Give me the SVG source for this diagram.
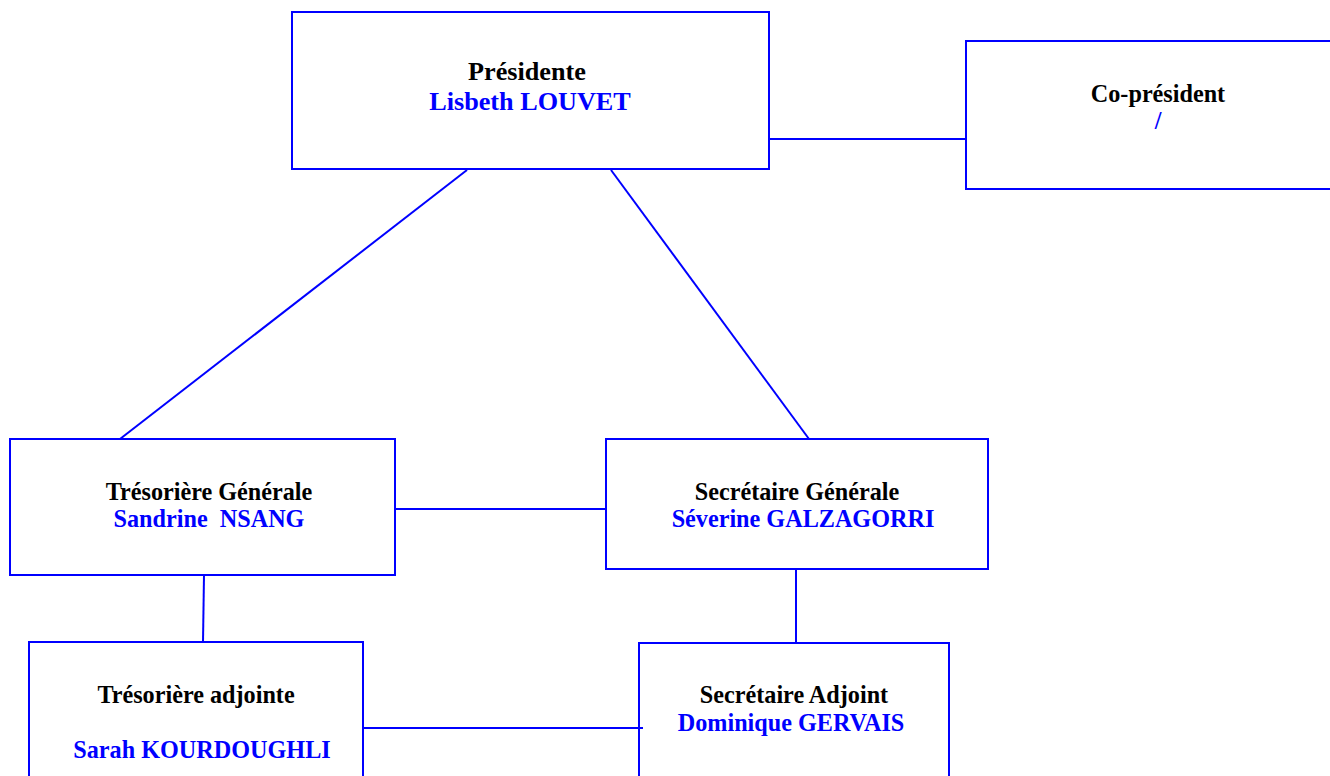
<svg xmlns="http://www.w3.org/2000/svg" width="1330" height="776" viewBox="0 0 1330 776">
<style>
.box{fill:none;stroke:#0000ff;stroke-width:2}
.ln{stroke:#0000ff;stroke-width:2;fill:none}
.t{font-family:"Liberation Serif","Times New Roman",serif;font-weight:bold;font-size:24.2px;text-anchor:middle;white-space:pre}
.role{fill:#000}
.name{fill:#0000ff}
.big{font-size:26.2px}
</style>
<rect width="1330" height="776" fill="#fff"/>
<g id="connectors">
<line class="ln" x1="769" y1="139" x2="966" y2="139"/>
<line class="ln" x1="467" y1="170" x2="120" y2="439"/>
<line class="ln" x1="611" y1="170" x2="809" y2="439"/>
<line class="ln" x1="395" y1="509" x2="606" y2="509"/>
<line class="ln" x1="204" y1="575" x2="203" y2="642"/>
<line class="ln" x1="796" y1="570" x2="796" y2="643"/>
<line class="ln" x1="363" y1="728" x2="643" y2="728"/>
</g>
<g id="presidente">
<rect class="box" x="292" y="12" width="477" height="157"/>
<text class="t role big" x="527" y="80">Présidente</text>
<text class="t name big" x="530" y="110">Lisbeth LOUVET</text>
</g>
<g id="copresident">
<rect class="box" x="966" y="41" width="380" height="148"/>
<text class="t role" x="1158" y="102">Co-président</text>
<text class="t name" x="1158" y="129">/</text>
</g>
<g id="tresoriere-generale">
<rect class="box" x="10" y="439" width="385" height="136"/>
<text class="t role" x="209" y="500">Trésorière Générale</text>
<text class="t name" x="209" y="527" xml:space="preserve">Sandrine  NSANG</text>
</g>
<g id="secretaire-generale">
<rect class="box" x="606" y="439" width="382" height="130"/>
<text class="t role" x="797" y="500">Secrétaire Générale</text>
<text class="t name" x="803" y="527">Séverine GALZAGORRI</text>
</g>
<g id="tresoriere-adjointe">
<rect class="box" x="29" y="642" width="334" height="150"/>
<text class="t role" x="196" y="703">Trésorière adjointe</text>
<text class="t name" x="202" y="758">Sarah KOURDOUGHLI</text>
</g>
<g id="secretaire-adjoint">
<rect class="box" x="639" y="643" width="310" height="150"/>
<text class="t role" x="794" y="703">Secrétaire Adjoint</text>
<text class="t name" x="791" y="731">Dominique GERVAIS</text>
</g>
</svg>
